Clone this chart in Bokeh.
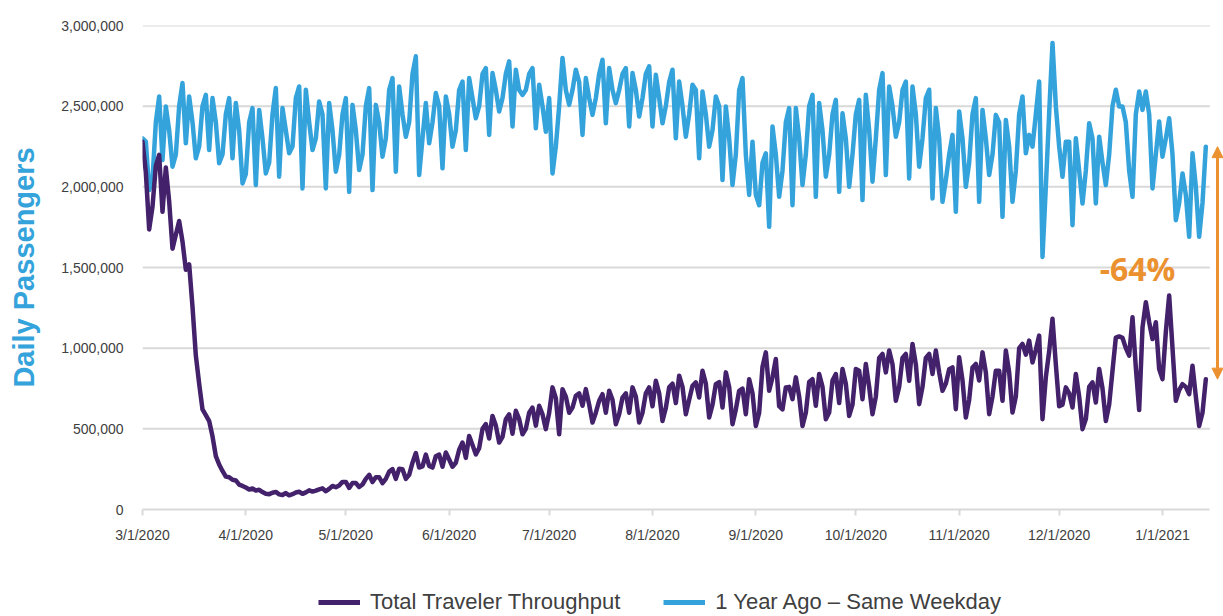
import datetime as dt
from bokeh.plotting import figure
from bokeh.layouts import column
from bokeh.models import (FixedTicker, NumeralTickFormatter, Range1d, Legend,
                          LegendItem, Arrow, NormalHead, ColumnDataSource)
from bokeh.core.properties import value
from bokeh.embed import file_html
from bokeh.resources import INLINE

# ---------------- data ----------------
start_date = "2020-03-01"
month_labels = ["3/1/2020", "4/1/2020", "5/1/2020", "6/1/2020", "7/1/2020", "8/1/2020",
                "9/1/2020", "10/1/2020", "11/1/2020", "12/1/2020", "1/1/2021"]
y_ticks = [0, 500000, 1000000, 1500000, 2000000, 2500000, 3000000]
series_names = ["Total Traveler Throughput", "1 Year Ago \u2013 Same Weekday"]

# daily passengers, thousands (weeks Sun..Sat starting 3/1/2020)
throughput_k = [
    2280, 2090, 1736, 1877, 2130, 2198, 1845,
    2120, 1910, 1617, 1703, 1788, 1661, 1486,
    1519, 1257, 954, 780, 620, 585, 548,
    454, 331, 279, 239, 204, 200, 184,
    180, 154, 146, 136, 124, 130, 118,
    122, 108, 97, 95, 104, 109, 94,
    90, 102, 88, 95, 105, 110, 97,
    106, 119, 111, 117, 125, 131, 113,
    128, 146, 138, 149, 171, 171, 134,
    164, 164, 140, 155, 190, 215, 170,
    200, 200, 163, 190, 235, 250, 190,
    253, 250, 190, 215, 290, 350, 260,
    267, 340, 270, 260, 330, 340, 265,
    353, 310, 265, 290, 370, 415, 320,
    456, 400, 342, 380, 500, 529, 440,
    580, 520, 415, 450, 560, 590, 470,
    612, 560, 466, 500, 600, 632, 520,
    643, 590, 498, 600, 757, 690, 466,
    746, 700, 600, 632, 705, 720, 643,
    746, 650, 539, 600, 674, 715, 600,
    736, 680, 529, 590, 694, 720, 600,
    757, 700, 539, 600, 720, 757, 640,
    798, 720, 549, 630, 757, 780, 660,
    829, 760, 591, 680, 767, 788, 694,
    860, 780, 570, 650, 777, 790, 632,
    850, 760, 529, 620, 736, 750, 591,
    808, 720, 518, 600, 885, 974, 736,
    820, 933, 640, 620, 757, 760, 684,
    819, 700, 518, 600, 790, 808, 643,
    840, 760, 560, 601, 800, 840, 660,
    871, 780, 580, 650, 871, 860, 684,
    902, 760, 591, 700, 940, 964, 850,
    985, 900, 674, 760, 940, 964, 798,
    1026, 900, 653, 760, 940, 964, 840,
    985, 850, 736, 780, 870, 881, 622,
    943, 800, 570, 680, 880, 902, 800,
    974, 850, 591, 700, 860, 860, 674,
    985, 850, 601, 700, 1000, 1026, 960,
    1047, 912, 990, 1078, 560, 820, 980,
    1182, 900, 640, 650, 757, 720, 632,
    840, 700, 498, 560, 760, 788, 663,
    871, 750, 549, 650, 860, 1066, 1073,
    1064, 1000, 954, 1191, 880, 616, 1128,
    1285, 1161, 1057, 1161, 870, 808, 1100,
    1327, 1000, 674, 740, 777, 760, 715,
    891, 700, 518, 600, 808,
]

year_ago_k = [
    2301, 2280, 1980, 2050, 2400, 2560, 2166,
    2498, 2350, 2125, 2200, 2500, 2643, 2270,
    2560, 2400, 2177, 2250, 2500, 2570, 2228,
    2550, 2400, 2146, 2200, 2450, 2550, 2177,
    2519, 2350, 2021, 2080, 2400, 2488, 2011,
    2477, 2300, 2083, 2150, 2450, 2612, 2063,
    2488, 2350, 2208, 2250, 2550, 2622, 1990,
    2602, 2400, 2228, 2300, 2529, 2450, 1990,
    2519, 2350, 2094, 2200, 2450, 2550, 1969,
    2508, 2350, 2104, 2200, 2500, 2612, 1980,
    2508, 2400, 2187, 2300, 2600, 2674, 2094,
    2622, 2450, 2311, 2400, 2700, 2809, 2073,
    2300, 2519, 2270, 2400, 2581, 2500, 2115,
    2560, 2450, 2249, 2350, 2600, 2653, 2228,
    2674, 2550, 2425, 2500, 2700, 2736, 2322,
    2705, 2600, 2467, 2550, 2700, 2778, 2374,
    2726, 2600, 2570, 2600, 2700, 2736, 2363,
    2633, 2500, 2342, 2550, 2083, 2250, 2500,
    2799, 2600, 2508, 2600, 2726, 2650, 2322,
    2674, 2550, 2446, 2550, 2700, 2788, 2394,
    2736, 2600, 2519, 2600, 2700, 2736, 2374,
    2705, 2600, 2436, 2550, 2700, 2747, 2374,
    2695, 2550, 2394, 2500, 2650, 2726, 2301,
    2653, 2500, 2311, 2450, 2633, 2600, 2177,
    2591, 2450, 2249, 2350, 2560, 2500, 2042,
    2498, 2300, 2011, 2200, 2600, 2674, 2200,
    1950, 2280, 1950, 1886, 2150, 2208, 1752,
    2374, 2200, 1938, 2100, 2400, 2488, 1886,
    2488, 2300, 2011, 2200, 2500, 2570, 1938,
    2519, 2350, 2063, 2200, 2450, 2539, 1969,
    2456, 2300, 2000, 2200, 2450, 2539, 1918,
    2570, 2350, 2032, 2300, 2600, 2705, 2073,
    2622, 2500, 2311, 2400, 2600, 2653, 2052,
    2622, 2450, 2125, 2300, 2550, 2602, 1928,
    2488, 2300, 1907, 2042, 2200, 2322, 1845,
    2467, 2300, 2000, 2150, 2450, 2550, 1907,
    2477, 2300, 2073, 2200, 2446, 2400, 1814,
    2415, 2250, 1907, 2100, 2450, 2560, 2208,
    2322, 2249, 2450, 2653, 1565, 2000, 2456,
    2892, 2500, 2250, 2063, 2280, 2280, 1762,
    2301, 2100, 1897, 2100, 2394, 2300, 1897,
    2311, 2150, 2011, 2200, 2500, 2602, 2498,
    2498, 2400, 2100, 1938, 2450, 2591, 2477,
    2591, 2450, 1990, 2200, 2405, 2187, 2300,
    2425, 2200, 1793, 1900, 2083, 1950, 1690,
    2208, 2000, 1690, 1900, 2249,
]

# ---------------- styling ----------------
PURPLE = "#43216B"
BLUE = "#35A3DB"
ORANGE = "#EC9130"
GRID = "#D9D9D9"
TXT = "#404040"
FONT = "Liberation Sans"
W = 1223

d0 = dt.date.fromisoformat(start_date)
n = min(len(throughput_k), len(year_ago_k))
days = list(range(n))


def day_of(label):
    m, d, y = (int(v) for v in label.split("/"))
    return (dt.date(y, m, d) - d0).days


tick_pos = [day_of(l) for l in month_labels]

src = ColumnDataSource(dict(
    day=days,
    total=[v * 1000 for v in throughput_k[:n]],
    ago=[v * 1000 for v in year_ago_k[:n]],
))

p = figure(width=W, height=560, output_backend="svg", toolbar_location=None,
           x_range=Range1d(0, 324.3), y_range=Range1d(0, 3000000),
           min_border_left=142, min_border_right=0, min_border_top=25,
           min_border_bottom=51)
p.outline_line_color = None
p.background_fill_color = "white"
p.border_fill_color = "white"
p.xgrid.visible = False
p.ygrid.visible = False

# horizontal gridlines (stop just before the arrow)
grid_end = n - 1 + 1.2
gy = [t for t in y_ticks if t > 0]
p.segment(x0=[0] * len(gy), x1=[grid_end] * len(gy), y0=gy, y1=gy,
          line_color=GRID, line_width=2)

r_ago = p.line("day", "ago", source=src, line_color=BLUE, line_width=4.5,
               line_join="round", line_cap="round")
r_tot = p.line("day", "total", source=src, line_color=PURPLE, line_width=4.5,
               line_join="round", line_cap="round")

# x axis
xa = p.xaxis[0]
xa.ticker = FixedTicker(ticks=tick_pos)
xa.major_label_overrides = {t: l for t, l in zip(tick_pos, month_labels)}
xa.bounds = (0, grid_end)
xa.axis_line_color = GRID
xa.axis_line_width = 2
xa.major_tick_line_color = GRID
xa.major_tick_line_width = 2
xa.major_tick_out = 6
xa.major_tick_in = 0
xa.minor_tick_line_color = None
xa.major_label_text_font = FONT
xa.major_label_text_font_size = "14px"
xa.major_label_text_color = TXT
xa.major_label_standoff = 11

# y axis
ya = p.yaxis[0]
ya.ticker = FixedTicker(ticks=y_ticks)
ya.formatter = NumeralTickFormatter(format="0,0")
ya.axis_line_color = None
ya.major_tick_line_color = None
ya.minor_tick_line_color = None
ya.major_tick_out = 0
ya.major_tick_in = 0
ya.major_label_text_font = FONT
ya.major_label_text_font_size = "14px"
ya.major_label_text_color = TXT
ya.major_label_standoff = 19
ya.axis_label = "Daily Passengers"
ya.axis_label_text_font = FONT
ya.axis_label_text_font_style = "bold"
ya.axis_label_text_font_size = "29px"
ya.axis_label_text_color = BLUE
ya.axis_label_standoff = 18

# change annotation
arrow_x = 322.5
y_top = year_ago_k[n - 1] * 1000
y_bot = throughput_k[n - 1] * 1000
p.add_layout(Arrow(
    start=NormalHead(size=11, fill_color=ORANGE, line_color=ORANGE),
    end=NormalHead(size=11, fill_color=ORANGE, line_color=ORANGE),
    x_start=arrow_x, y_start=y_top, x_end=arrow_x, y_end=y_bot,
    line_color=ORANGE, line_width=3))
pct = round((throughput_k[n - 1] / year_ago_k[n - 1] - 1) * 100)
p.text(x=[298.5], y=[1495000], text=[f"{pct}%"], text_color=ORANGE,
       text_font=value("Open Sans"), text_font_style="bold",
       text_font_size="32px", text_align="center", text_baseline="middle")

# legend strip below the chart (frame aligned with the main chart's frame)
lg = figure(width=W, height=56, output_backend="svg", toolbar_location=None,
            x_range=Range1d(0, 1), y_range=Range1d(0, 1),
            min_border=0, min_border_left=0, min_border_right=0,
            min_border_top=0, min_border_bottom=0)
lg.axis.visible = False
lg.xgrid.visible = False
lg.ygrid.visible = False
lg.outline_line_color = None
# swatch renderers: kept outside the visible range, only used by the legend
lr_tot = lg.line(x=[-10, -9], y=[-10, -10], line_color=PURPLE, line_width=5)
lr_ago = lg.line(x=[-10, -9], y=[-10, -10], line_color=BLUE, line_width=5)
legend = Legend(items=[LegendItem(label=series_names[0], renderers=[lr_tot]),
                       LegendItem(label=series_names[1], renderers=[lr_ago])],
                location=(176, 1), orientation="horizontal",
                glyph_width=42, glyph_height=20, label_standoff=10, spacing=43,
                padding=0, margin=0, border_line_color=None,
                background_fill_alpha=0,
                label_text_font=FONT, label_text_font_size="22px",
                label_text_color=TXT)
lg.add_layout(legend)

page = column(p, lg, spacing=0)
open("out.html", "w").write(file_html(page, INLINE))
